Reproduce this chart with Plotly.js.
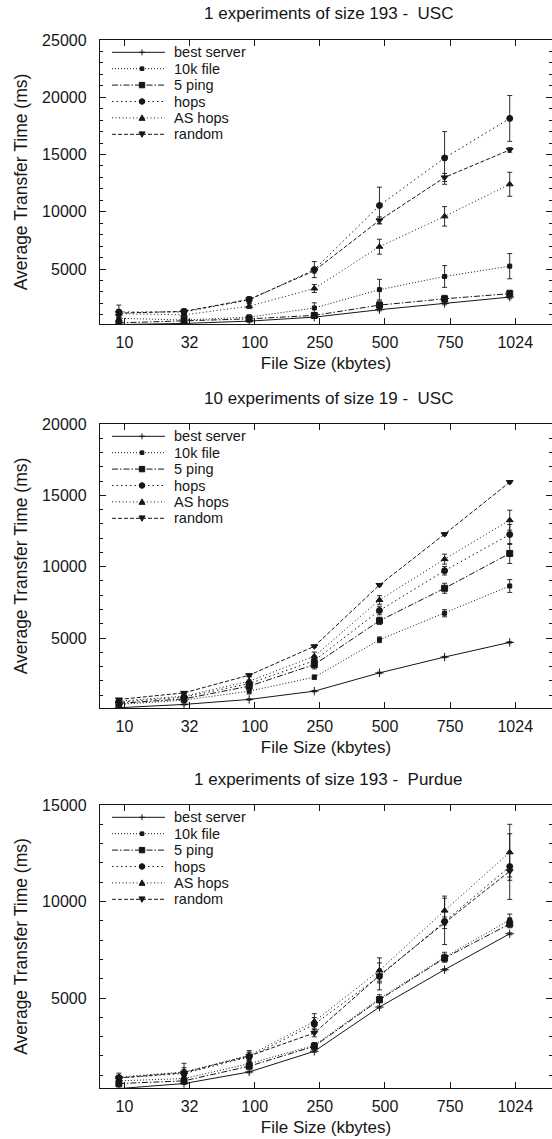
<!DOCTYPE html>
<html>
<head>
<meta charset="utf-8">
<script src="https://cdn.plot.ly/plotly-3.0.1.min.js"></script>
<style>
  html, body { margin: 0; padding: 0; background: #fff; overflow: hidden; }
  #chart { width: 552px; height: 1139px; }
</style>
</head>
<body>
<div id="chart"></div>
<script>
// ---------------- data ----------------
const fileSizes = ['10', '32', '100', '250', '500', '750', '1024'];
const seriesNames = ['best server', '10k file', '5 ping', 'hops', 'AS hops', 'random'];
const panelTitles = [
  '1 experiments of size 193 -  USC',
  '10 experiments of size 19 -  USC',
  '1 experiments of size 193 -  Purdue'
];

// Panel 1: 1 experiments of size 193 - USC
const usc193Best   = [150, 250, 450, 800, 1450, 2000, 2550];
const usc193File   = [700, 550, 800, 1600, 3200, 4350, 5250];
const usc193Ping   = [300, 500, 650, 950, 1850, 2400, 2850];
const usc193Hops   = [1250, 1250, 2300, 4950, 10550, 14700, 18150];
const usc193AsHops = [1100, 1000, 1750, 3300, 6950, 9600, 12400];
const usc193Random = [1150, 1300, 2350, 4850, 9250, 13000, 15400];
const usc193BestErr   = [50, 50, 80, 100, 100, 120, 150];
const usc193FileErr   = [300, 200, 200, 450, 900, 950, 1100];
const usc193PingErr   = [200, 150, 150, 200, 350, 300, 300];
const usc193HopsErr   = [600, 300, 300, 700, 1600, 2300, 2000];
const usc193AsHopsErr = [300, 200, 200, 350, 650, 850, 1050];
const usc193RandomErr = [200, 150, 150, 200, 300, 350, 200];

// Panel 2: 10 experiments of size 19 - USC
const usc19Best   = [120, 350, 700, 1280, 2560, 3670, 4700];
const usc19File   = [350, 650, 1280, 2260, 4880, 6740, 8650];
const usc19Ping   = [420, 740, 1630, 3140, 6210, 8490, 10930];
const usc19Hops   = [510, 860, 1810, 3420, 6930, 9720, 12260];
const usc19AsHops = [580, 930, 1980, 3720, 7670, 10530, 13260];
const usc19Random = [700, 1160, 2400, 4420, 8720, 12280, 15930];
const usc19BestErr   = [30, 40, 50, 50, 50, 50, 50];
const usc19FileErr   = [100, 150, 200, 150, 200, 250, 450];
const usc19PingErr   = [150, 200, 250, 300, 250, 350, 700];
const usc19HopsErr   = [150, 200, 250, 250, 300, 300, 700];
const usc19AsHopsErr = [150, 200, 300, 300, 300, 350, 700];
const usc19RandomErr = [50, 80, 80, 80, 80, 80, 80];

// Panel 3: 1 experiments of size 193 - Purdue
const purdueBest   = [310, 570, 1170, 2240, 4530, 6470, 8330];
const purdueFile   = [710, 830, 1600, 2550, 4970, 7120, 9050];
const purduePing   = [570, 710, 1470, 2500, 4910, 7070, 8840];
const purdueHops   = [860, 1090, 1950, 3640, 6120, 8970, 11810];
const purdueAsHops = [910, 1170, 2030, 3790, 6430, 9530, 12550];
const purdueRandom = [860, 1140, 2000, 3190, 6170, 8900, 11570];
const purdueBestErr   = [30, 50, 50, 50, 50, 50, 50];
const purdueFileErr   = [100, 150, 150, 150, 200, 250, 300];
const purduePingErr   = [80, 100, 100, 150, 150, 200, 200];
const purdueHopsErr   = [150, 300, 250, 350, 700, 1200, 1700];
const purdueAsHopsErr = [200, 450, 250, 400, 650, 750, 1450];
const purdueRandomErr = [100, 150, 150, 200, 300, 300, 300];

const panelValues = [
  [usc193Best, usc193File, usc193Ping, usc193Hops, usc193AsHops, usc193Random],
  [usc19Best, usc19File, usc19Ping, usc19Hops, usc19AsHops, usc19Random],
  [purdueBest, purdueFile, purduePing, purdueHops, purdueAsHops, purdueRandom]
];
const panelErrors = [
  [usc193BestErr, usc193FileErr, usc193PingErr, usc193HopsErr, usc193AsHopsErr, usc193RandomErr],
  [usc19BestErr, usc19FileErr, usc19PingErr, usc19HopsErr, usc19AsHopsErr, usc19RandomErr],
  [purdueBestErr, purdueFileErr, purduePingErr, purdueHopsErr, purdueAsHopsErr, purdueRandomErr]
];
const yMaxTicks = [25000, 20000, 15000];

// ---------------- styles / layout ----------------
const INK = '#161616';
const FONT = 'Liberation Sans, Arial, Helvetica, sans-serif';
const W = 552, H = 1139, ML = 100, MR = 0, MT = 40, MB = 51;
const plotW = W - ML - MR, plotH = H - MT - MB;
const pxX = px => (px - ML) / plotW;
const pxY = py => (H - MB - py) / plotH;

const panelTop = [40, 424, 805];
const panelBottom = [324, 708, 1088];
const yRanges = [[200, 25000], [100, 20000], [340, 15000]];
const X_LEFT = -0.29, X_UNIT_PX = 65.14;
const KEY_FONT = 14.5, KEY_ROW = 16.4, KEY_FIRST = 12.3;

const styles = [
  { dash: 'solid',             symbol: 'cross-thin-open', size: 6 },
  { dash: '1px,2px',           symbol: 'square',          size: 4 },
  { dash: '6px,2px,1.5px,2px', symbol: 'square',          size: 6 },
  { dash: '1.5px,3px',         symbol: 'circle',          size: 6 },
  { dash: '1px,2.5px',         symbol: 'triangle-up',     size: 6 },
  { dash: '4px,2px',           symbol: 'triangle-down',   size: 6 }
];

const xIdx = fileSizes.map((_, i) => i);
const tickPos = fileSizes.map((_, i) => i + 0.085);

const traces = [];
const layout = {
  width: W, height: H, autosize: false,
  margin: { l: ML, r: MR, t: MT, b: MB, pad: 0 },
  paper_bgcolor: '#fff', plot_bgcolor: '#fff',
  font: { family: FONT, size: 16, color: INK },
  showlegend: false,
  annotations: [], shapes: []
};

for (let p = 0; p < 3; p++) {
  const xa = p === 0 ? 'x' : 'x' + (p + 1);
  const ya = p === 0 ? 'y' : 'y' + (p + 1);
  for (let s = 0; s < seriesNames.length; s++) {
    const st = styles[s];
    traces.push({
      type: 'scatter', mode: 'lines+markers',
      name: seriesNames[s],
      x: xIdx, y: panelValues[p][s],
      xaxis: xa, yaxis: ya,
      line: { color: INK, width: 1, dash: st.dash },
      marker: { symbol: st.symbol, size: st.size, color: INK, line: { color: INK, width: 1 } },
      error_y: { type: 'data', array: panelErrors[p][s], visible: true, color: INK, thickness: 0.9, width: 2.5 },
      showlegend: false, hoverinfo: 'x+y+name'
    });
  }
  const yTickVals = [];
  for (let v = 5000; v <= yMaxTicks[p]; v += 5000) yTickVals.push(v);

  layout['xaxis' + (p === 0 ? '' : p + 1)] = {
    anchor: ya, domain: [0, 1],
    range: [X_LEFT, X_LEFT + plotW / X_UNIT_PX],
    tickmode: 'array', tickvals: tickPos, ticktext: fileSizes,
    ticks: 'inside', ticklen: 6, tickwidth: 1, tickcolor: INK,
    showline: true, linecolor: INK, linewidth: 1.2, mirror: 'ticks',
    showgrid: false, zeroline: false,
    ticklabelstandoff: 4,
    tickfont: { family: FONT, size: 16, color: INK },
    title: { text: 'File Size (kbytes)', font: { family: FONT, size: 17, color: INK }, standoff: 6 }
  };
  layout['yaxis' + (p === 0 ? '' : p + 1)] = {
    anchor: xa,
    domain: [pxY(panelBottom[p]), pxY(panelTop[p])],
    range: yRanges[p],
    tickmode: 'array', tickvals: yTickVals, tickformat: 'd',
    ticks: 'inside', ticklen: 6, tickwidth: 1, tickcolor: INK,
    minor: { tickmode: 'linear', tick0: 0, dtick: 1000, ticks: 'inside', ticklen: 3, tickwidth: 1, tickcolor: INK, showgrid: false },
    showline: true, linecolor: INK, linewidth: 1.2, mirror: 'ticks',
    showgrid: false, zeroline: false,
    ticklabelstandoff: 9,
    tickfont: { family: FONT, size: 16, color: INK },
    title: { text: 'Average Transfer Time (ms)', font: { family: FONT, size: 17.5, color: INK }, standoff: 10 }
  };

  // panel title
  layout.annotations.push({
    xref: 'paper', yref: 'paper', x: pxX(328), y: pxY(panelTop[p] - 26),
    xanchor: 'center', yanchor: 'middle', showarrow: false,
    text: panelTitles[p], font: { family: FONT, size: 17, color: INK }
  });

  // manual key
  for (let s = 0; s < seriesNames.length; s++) {
    const st = styles[s];
    const py = panelTop[p] + KEY_FIRST + KEY_ROW * s;
    const yp = pxY(py);
    layout.shapes.push({
      type: 'line', xref: 'paper', yref: 'paper',
      x0: pxX(112), x1: pxX(165), y0: yp, y1: yp,
      line: { color: INK, width: 1, dash: st.dash }
    });
    const base = { xref: 'paper', yref: 'paper', xsizemode: 'pixel', ysizemode: 'pixel',
                   xanchor: pxX(142), yanchor: yp, fillcolor: INK, line: { color: INK, width: 1 } };
    if (s === 0) layout.shapes.push(Object.assign({}, base, { type: 'path', path: 'M-3,0L3,0M0,-3L0,3', fillcolor: 'rgba(0,0,0,0)' }));
    if (s === 1) layout.shapes.push(Object.assign({}, base, { type: 'rect', x0: -1.8, x1: 1.8, y0: -1.8, y1: 1.8 }));
    if (s === 2) layout.shapes.push(Object.assign({}, base, { type: 'rect', x0: -2.7, x1: 2.7, y0: -2.7, y1: 2.7 }));
    if (s === 3) layout.shapes.push(Object.assign({}, base, { type: 'circle', x0: -2.8, x1: 2.8, y0: -2.8, y1: 2.8 }));
    if (s === 4) layout.shapes.push(Object.assign({}, base, { type: 'path', path: 'M-3,-2.4L3,-2.4L0,3Z' }));
    if (s === 5) layout.shapes.push(Object.assign({}, base, { type: 'path', path: 'M-3,2.4L3,2.4L0,-3Z' }));
    layout.annotations.push({
      xref: 'paper', yref: 'paper', x: pxX(173), y: yp,
      xanchor: 'left', yanchor: 'middle', showarrow: false, borderpad: 0,
      text: seriesNames[s], font: { family: FONT, size: KEY_FONT, color: INK }
    });
  }
}

Plotly.newPlot('chart', traces, layout, { staticPlot: true, displayModeBar: false });
</script>
</body>
</html>
